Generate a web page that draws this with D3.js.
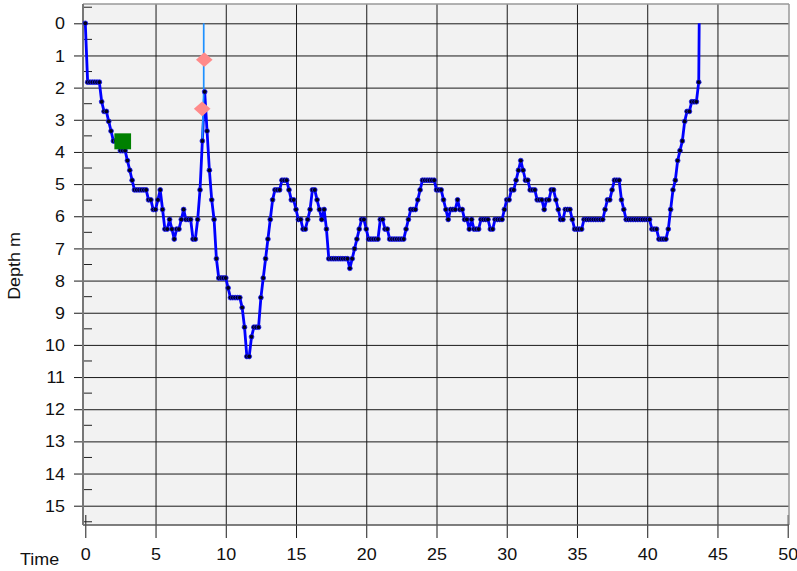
<!DOCTYPE html>
<html>
<head>
<meta charset="utf-8">
<script src="https://cdn.jsdelivr.net/npm/d3@7"></script>
<style>
  body { margin: 0; background: #fff; }
  svg text { font-family: "Liberation Sans", Arial, sans-serif; font-size: 16px; fill: #111; }
</style>
</head>
<body>
<div id="chart"></div>
<script>
// Dive profile - one sample every 10 s, depth in metres
var sampleSec = 10;
var depths = [
  0, 1.83, 1.83, 1.83, 1.83, 1.83, 1.83, 2.44, 2.74, 2.74,
  3.05, 3.35, 3.66, 3.66, 3.66, 3.96, 3.96, 3.96, 4.27, 4.57,
  4.88, 5.18, 5.18, 5.18, 5.18, 5.18, 5.18, 5.49, 5.49, 5.79,
  5.79, 5.49, 5.18, 5.79, 6.40, 6.40, 6.10, 6.40, 6.71, 6.40,
  6.40, 6.10, 5.79, 6.10, 6.10, 6.10, 6.71, 6.71, 6.10, 5.18,
  3.66, 2.13, 3.35, 4.57, 5.49, 6.10, 7.32, 7.92, 7.92, 7.92,
  7.92, 8.23, 8.53, 8.53, 8.53, 8.53, 8.53, 8.84, 9.45, 10.36,
  10.36, 9.75, 9.45, 9.45, 9.45, 8.53, 7.92, 7.32, 6.71, 6.10,
  5.49, 5.18, 5.18, 5.18, 4.88, 4.88, 4.88, 5.18, 5.49, 5.49,
  5.79, 6.10, 6.10, 6.40, 6.40, 6.10, 5.79, 5.18, 5.18, 5.49,
  5.79, 6.10, 5.79, 6.40, 7.32, 7.32, 7.32, 7.32, 7.32, 7.32,
  7.32, 7.32, 7.32, 7.62, 7.32, 7.01, 6.71, 6.40, 6.10, 6.10,
  6.40, 6.71, 6.71, 6.71, 6.71, 6.71, 6.10, 6.10, 6.40, 6.40,
  6.71, 6.71, 6.71, 6.71, 6.71, 6.71, 6.71, 6.40, 6.10, 5.79,
  5.79, 5.79, 5.49, 5.18, 4.88, 4.88, 4.88, 4.88, 4.88, 4.88,
  5.18, 5.18, 5.18, 5.49, 5.79, 6.10, 5.79, 5.79, 5.79, 5.49,
  5.79, 5.79, 6.10, 6.10, 6.40, 6.10, 6.40, 6.40, 6.40, 6.10,
  6.10, 6.10, 6.10, 6.40, 6.40, 6.10, 6.10, 6.10, 6.10, 5.79,
  5.49, 5.49, 5.18, 5.18, 4.88, 4.57, 4.27, 4.57, 4.88, 4.88,
  5.18, 5.18, 5.18, 5.49, 5.49, 5.49, 5.79, 5.49, 5.49, 5.18,
  5.18, 5.49, 5.79, 6.10, 6.10, 5.79, 5.79, 5.79, 6.10, 6.40,
  6.40, 6.40, 6.40, 6.10, 6.10, 6.10, 6.10, 6.10, 6.10, 6.10,
  6.10, 6.10, 5.79, 5.49, 5.49, 5.18, 4.88, 4.88, 4.88, 5.49,
  5.79, 6.10, 6.10, 6.10, 6.10, 6.10, 6.10, 6.10, 6.10, 6.10,
  6.10, 6.10, 6.40, 6.40, 6.40, 6.71, 6.71, 6.71, 6.71, 6.40,
  5.79, 5.18, 4.88, 4.27, 3.96, 3.66, 3.05, 2.74, 2.74, 2.44,
  2.44, 2.44, 1.83
];
var surfaceTime = 43.70;   // back at the surface (no sample dot)

// events
var squareTime = [2.66];
var squareDepth = [3.67];
var diamondTime = [8.47, 8.32];
var diamondDepth = [1.13, 2.66];
var sensorTime = [8.43, 8.43, 8.33];
var sensorDepth = [0, 2.1, 3.66];

// tick labels
var timeTicks = [0, 5, 10, 15, 20, 25, 30, 35, 40, 45, 50];
var depthTicks = [0, 1, 2, 3, 4, 5, 6, 7, 8, 9, 10, 11, 12, 13, 14, 15];
var halfTicks = [-0.5, 0.5, 1.5, 2.5, 3.5, 4.5, 5.5, 6.5, 7.5, 8.5, 9.5, 10.5, 11.5, 12.5, 13.5, 14.5, 15.5];

var width = 797, height = 571;
var plotL = 83, plotT = 4, plotR = 789, plotB = 525;
var textStretch = "scale(1.12,1)";

var x = d3.scaleLinear().domain([0, 50]).range([85.3, 787.7]);
var y = d3.scaleLinear().domain([0, 15]).range([23.3, 505.7]);

var svg = d3.select("#chart")
  .append("svg")
  .attr("width", width)
  .attr("height", height);

// plot background
svg.append("rect")
  .attr("x", plotL).attr("y", plotT)
  .attr("width", plotR - plotL).attr("height", plotB - plotT)
  .attr("fill", "#f2f2f2");

// vertical grid + ticks below
var xAxis = svg.append("g")
  .attr("transform", "translate(0," + plotB + ")")
  .call(d3.axisBottom(x).tickValues(timeTicks).tickSize(13).tickFormat(""));
xAxis.select(".domain").remove();
xAxis.selectAll(".tick line")
  .attr("stroke", "#1a1a1a")
  .attr("y1", function(d) { return (d === 0 || d === 50) ? -10 : plotT - plotB; });

xAxis.selectAll(".tick")
  .append("text")
  .attr("transform", "translate(0,35) " + textStretch)
  .attr("text-anchor", "middle")
  .attr("fill", "#111")
  .text(function(d) { return d; });

// horizontal grid + labels
var yAxis = svg.append("g")
  .attr("transform", "translate(" + plotL + ",0)")
  .call(d3.axisLeft(y).tickValues(depthTicks).tickSize(9).tickFormat(""));
yAxis.select(".domain").remove();
yAxis.selectAll(".tick line")
  .attr("stroke", "#1a1a1a")
  .attr("x2", plotR - plotL)
  .attr("x1", -9);
yAxis.selectAll(".tick")
  .append("text")
  .attr("transform", "translate(-18,0) " + textStretch)
  .attr("dy", "0.35em")
  .attr("text-anchor", "end")
  .attr("fill", "#111")
  .text(function(d) { return d; });

// minor half-metre ticks inside the axis
svg.append("g")
  .selectAll("line")
  .data(halfTicks)
  .enter()
  .append("line")
  .attr("x1", plotL).attr("x2", plotL + 9)
  .attr("y1", function(d) { return y(d); })
  .attr("y2", function(d) { return y(d); })
  .attr("stroke", "#222");

// frame
svg.append("line").attr("x1", plotL).attr("x2", plotR).attr("y1", plotT).attr("y2", plotT)
  .attr("stroke", "#999").attr("stroke-width", 1.5);
svg.append("line").attr("x1", plotR).attr("x2", plotR).attr("y1", plotT).attr("y2", plotB)
  .attr("stroke", "#999").attr("stroke-width", 1.5);
svg.append("line").attr("x1", plotL).attr("x2", plotR).attr("y1", plotB).attr("y2", plotB)
  .attr("stroke", "#555").attr("stroke-width", 1.5);
svg.append("line").attr("x1", plotL).attr("x2", plotL).attr("y1", plotT).attr("y2", plotB)
  .attr("stroke", "#777").attr("stroke-width", 2);

// axis titles
svg.append("text")
  .attr("transform", "translate(20,266) rotate(-90) " + textStretch)
  .attr("text-anchor", "middle")
  .text("Depth m");
svg.append("text")
  .attr("transform", "translate(20,565) " + textStretch)
  .text("Time");

// profile
var profile = depths.map(function(d, i) { return { t: i * sampleSec / 60, d: d }; });
var lineData = profile.concat([{ t: surfaceTime, d: 0 }]);

var line = d3.line()
  .x(function(p) { return x(p.t); })
  .y(function(p) { return y(p.d); });

svg.append("path")
  .datum(lineData)
  .attr("d", line)
  .attr("fill", "none")
  .attr("stroke", "#0000ff")
  .attr("stroke-width", 2.8)
  .attr("stroke-linejoin", "round");

// sensor trace
var sensor = sensorTime.map(function(t, i) { return { t: t, d: sensorDepth[i] }; });
svg.append("path")
  .datum(sensor)
  .attr("d", line)
  .attr("fill", "none")
  .attr("stroke", "#1e90ff")
  .attr("stroke-width", 1.7);

// sample dots
svg.append("g")
  .selectAll("circle")
  .data(profile)
  .enter()
  .append("circle")
  .attr("cx", function(p) { return x(p.t); })
  .attr("cy", function(p) { return y(p.d); })
  .attr("r", 2.4)
  .attr("fill", "#00001a")
  .attr("stroke", "#1a1aff")
  .attr("stroke-width", 0.8);

// diamonds
svg.append("g")
  .selectAll("path")
  .data(diamondTime)
  .enter()
  .append("path")
  .attr("d", function(t, i) {
    var cx = x(t), cy = y(diamondDepth[i]);
    return "M" + (cx - 8.3) + "," + cy + "L" + cx + "," + (cy - 7.3) +
           "L" + (cx + 8.3) + "," + cy + "L" + cx + "," + (cy + 7.3) + "Z";
  })
  .attr("fill", "#ff8a8a");

// square
svg.append("g")
  .selectAll("rect")
  .data(squareTime)
  .enter()
  .append("rect")
  .attr("x", function(t) { return x(t) - 8.3; })
  .attr("y", function(t, i) { return y(squareDepth[i]) - 8; })
  .attr("width", 16.7)
  .attr("height", 16)
  .attr("fill", "#008000");
</script>
</body>
</html>
